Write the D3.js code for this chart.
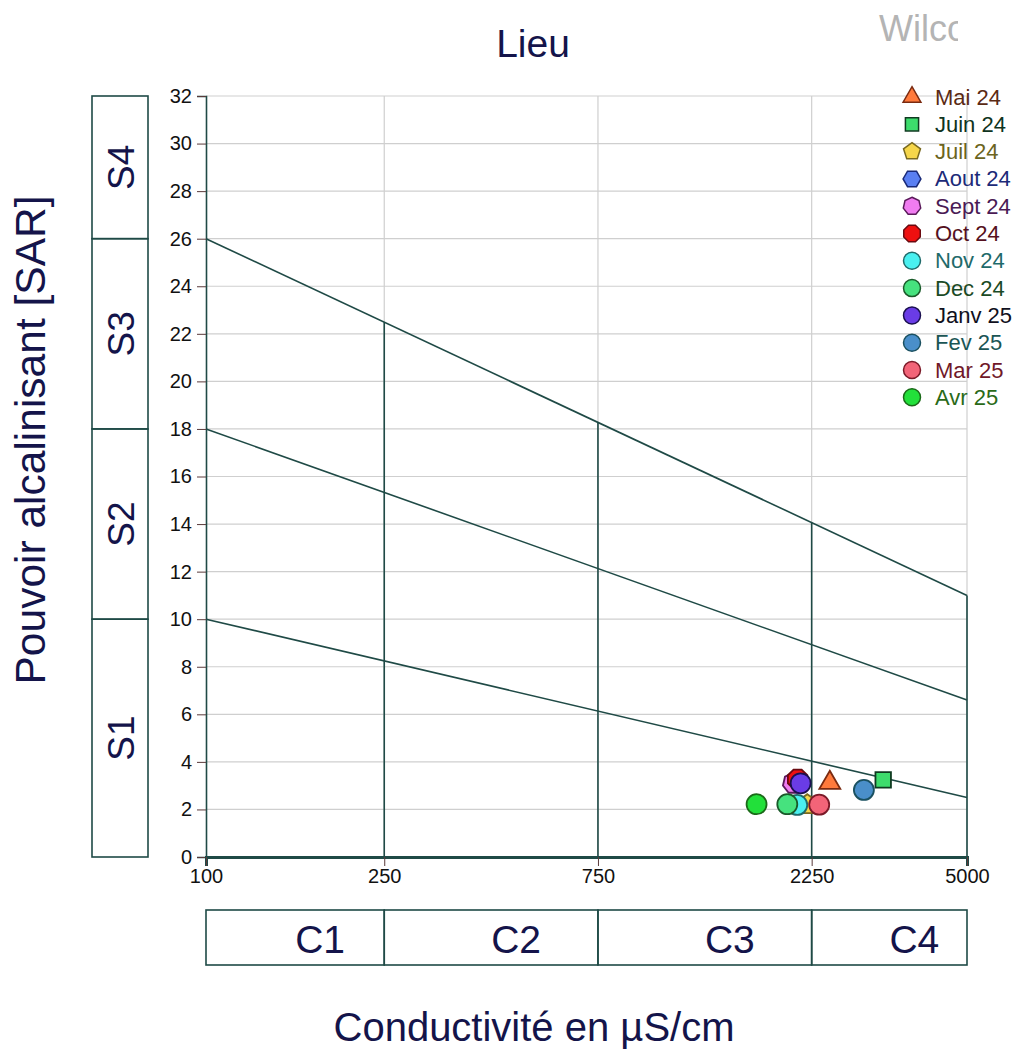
<!DOCTYPE html>
<html>
<head>
<meta charset="utf-8">
<script src="https://cdn.jsdelivr.net/npm/d3@7"></script>
<style>
  body { margin: 0; background: #fff; }
  svg { display: block; font-family: "Liberation Sans", Arial, sans-serif; }
</style>
</head>
<body>
<svg id="chart" width="1018" height="1052"></svg>
<script>
// Samples (month, conductivity in uS/cm, SAR)
const months = ["Mai 24", "Juin 24", "Juil 24", "Aout 24", "Sept 24", "Oct 24",
  "Nov 24", "Dec 24", "Janv 25", "Fev 25", "Mar 25", "Avr 25"];
const conductivity = [2470, 3250, 2200, 2090, 2046, 2093, 2089, 1985, 2126, 2943, 2339, 1695];
const sarValues = [3.12, 3.24, 2.2, 3.2, 3.1, 3.27, 2.19, 2.22, 3.1, 2.82, 2.2, 2.22];

// marker look per month
const shapes = ["triangle", "square", 5, 6, 7, 8, "circle", "circle", "circle", "circle", "circle", "circle"];
const fills = ["#ff7a3c", "#3ddc6c", "#f6d64a", "#5a7ff2", "#f07cf0", "#ee1010",
  "#4af0f0", "#46e27e", "#6a3ce6", "#4a8fca", "#f26478", "#22e03a"];
const strokes = ["#7a2a10", "#0f3a20", "#7a6a20", "#1a2a78", "#5a1a5a", "#6a0a10",
  "#1f6a6a", "#1a5a2a", "#1a1050", "#1a5060", "#7a1a28", "#1a6a18"];
const labelColors = ["#5a2a14", "#0f3320", "#6b6420", "#1c2a78", "#4a1a55", "#551020",
  "#1f6a6a", "#1a4a25", "#101020", "#1a5555", "#701828", "#2a6a18"];

// Wilcox classes
const ecTicks = [100, 250, 750, 2250, 5000];
const ecLimits = [250, 750, 2250];
const sarTicks = d3.range(0, 33, 2);
const sarClassLimits = [0, 10, 18, 26, 32];
const sarLabels = ["S1", "S2", "S3", "S4"];
const ecLabels = ["C1", "C2", "C3", "C4"];
// boundary lines: SAR at 100 and at 5000 uS/cm
const boundaryStart = [10, 18, 26];
const boundaryEnd = [2.5, 6.6, 11];

const svg = d3.select("#chart");
const dark = "#1f4a46";
const navy = "#14144a";

const x = d3.scaleLog().domain([100, 5000]).range([206, 967]);
const y = d3.scaleLinear().domain([0, 32]).range([857, 96]);

// grid
svg.append("g").selectAll("line").data(sarTicks.filter(d => d > 0)).join("line")
  .attr("x1", x(100)).attr("x2", x(5000))
  .attr("y1", d => y(d)).attr("y2", d => y(d))
  .attr("stroke", "#cfcfcf").attr("stroke-width", 1.2);
svg.append("g").selectAll("line").data(ecTicks.slice(1)).join("line")
  .attr("x1", d => x(d)).attr("x2", d => x(d))
  .attr("y1", y(0)).attr("y2", y(32))
  .attr("stroke", "#cfcfcf").attr("stroke-width", 1.2);

// boundary line value at a given conductivity
function boundaryAt(i, ec) {
  const t = (Math.log10(ec) - 2) / (Math.log10(5000) - 2);
  return boundaryStart[i] + t * (boundaryEnd[i] - boundaryStart[i]);
}

svg.append("g").selectAll("line").data(boundaryStart).join("line")
  .attr("x1", x(100)).attr("x2", x(5000))
  .attr("y1", d => y(d)).attr("y2", (d, i) => y(boundaryEnd[i]))
  .attr("stroke", dark).attr("stroke-width", 1.6);

svg.append("g").selectAll("line").data(ecLimits.concat([5000])).join("line")
  .attr("x1", d => x(d)).attr("x2", d => x(d))
  .attr("y1", y(0)).attr("y2", d => y(boundaryAt(2, d)))
  .attr("stroke", dark).attr("stroke-width", 1.6);

// axes
const yAxis = svg.append("g").attr("transform", `translate(${x(100)},0)`)
  .call(d3.axisLeft(y).tickValues(sarTicks).tickSize(9).tickPadding(5));
const xAxis = svg.append("g").attr("transform", `translate(0,${y(0)})`)
  .call(d3.axisBottom(x).tickValues(ecTicks).tickFormat(d3.format("d")).tickSize(9).tickPadding(3));
[yAxis, xAxis].forEach(a => {
  a.attr("font-size", 20).attr("font-family", "Liberation Sans, Arial, sans-serif");
  a.select(".domain").attr("stroke", dark);
  a.selectAll(".tick line").attr("stroke", "#5a3a3a");
  a.selectAll(".tick text").attr("fill", "#111");
});
yAxis.select(".domain").attr("stroke-width", 1.6);
xAxis.select(".domain").attr("stroke-width", 3);

// SAR class boxes on the left
const sBoxes = svg.append("g");
sarLabels.forEach((lab, i) => {
  const y0 = y(sarClassLimits[i]), y1 = y(sarClassLimits[i + 1]);
  sBoxes.append("rect").attr("x", 92).attr("y", y1).attr("width", 56).attr("height", y0 - y1)
    .attr("fill", "none").attr("stroke", dark).attr("stroke-width", 1.6);
  sBoxes.append("text")
    .attr("transform", `translate(134,${(y0 + y1) / 2}) rotate(-90)`)
    .attr("text-anchor", "middle").attr("font-size", 37).attr("fill", navy)
    .text(lab);
});

// conductivity class boxes at the bottom
const cBounds = [100].concat(ecLimits, [5000]);
const cBoxes = svg.append("g");
ecLabels.forEach((lab, i) => {
  const x0 = x(cBounds[i]), x1 = x(cBounds[i + 1]);
  cBoxes.append("rect").attr("x", x0).attr("y", 910).attr("width", x1 - x0).attr("height", 55)
    .attr("fill", "none").attr("stroke", dark).attr("stroke-width", 1.6);
  cBoxes.append("text")
    .attr("x", (x0 + x1) / 2 + 25).attr("y", 953)
    .attr("text-anchor", "middle").attr("font-size", 39).attr("fill", navy)
    .text(lab);
});

// markers
function polygon(n, r) {
  const pts = d3.range(n).map(k => {
    const a = -Math.PI / 2 + k * 2 * Math.PI / n + (n % 2 === 0 ? Math.PI / n : 0);
    return [r * Math.cos(a), r * Math.sin(a)];
  });
  return "M" + pts.map(p => p.join(",")).join("L") + "Z";
}
function markerPath(shape, r) {
  if (shape === "triangle") return d3.symbol(d3.symbolTriangle, r * r * 1.9)();
  if (shape === "square") return d3.symbol(d3.symbolSquare, r * r * 2.4)();
  if (shape === "circle") return d3.symbol(d3.symbolCircle, Math.PI * r * r)();
  return polygon(shape, r * 1.05);
}

svg.append("g").selectAll("path").data(months).join("path")
  .attr("transform", (d, i) => `translate(${x(conductivity[i])},${y(sarValues[i])})`)
  .attr("d", (d, i) => markerPath(shapes[i], 10))
  .attr("fill", (d, i) => fills[i])
  .attr("stroke", (d, i) => strokes[i]).attr("stroke-width", 1.8);

// legend
const legend = svg.append("g");
const rows = legend.selectAll("g").data(months).join("g")
  .attr("transform", (d, i) => `translate(912,${97 + i * 27.3})`);
rows.append("path")
  .attr("d", (d, i) => markerPath(shapes[i], 8.5))
  .attr("fill", (d, i) => fills[i])
  .attr("stroke", (d, i) => strokes[i]).attr("stroke-width", 1.5);
rows.append("text").attr("x", 23).attr("y", 7.5)
  .attr("font-size", 22).attr("fill", (d, i) => labelColors[i])
  .text(d => d);

// titles
svg.append("text").attr("x", 533).attr("y", 57).attr("text-anchor", "middle")
  .attr("font-size", 39).attr("fill", navy).text("Lieu");
svg.append("text").attr("x", 534).attr("y", 1041).attr("text-anchor", "middle")
  .attr("font-size", 40).attr("fill", navy).text("Conductivité en µS/cm");
svg.append("text").attr("transform", "translate(45,440) rotate(-90)").attr("text-anchor", "middle")
  .attr("font-size", 42.5).attr("fill", navy).text("Pouvoir alcalinisant [SAR]");

// cut-off watermark at the top right
svg.append("clipPath").attr("id", "wclip").append("rect")
  .attr("x", 0).attr("y", 0).attr("width", 958).attr("height", 80);
svg.append("text").attr("x", 879).attr("y", 41).attr("clip-path", "url(#wclip)")
  .attr("font-size", 36).attr("fill", "#b4b4b4").text("Wilcox");
</script>
</body>
</html>
